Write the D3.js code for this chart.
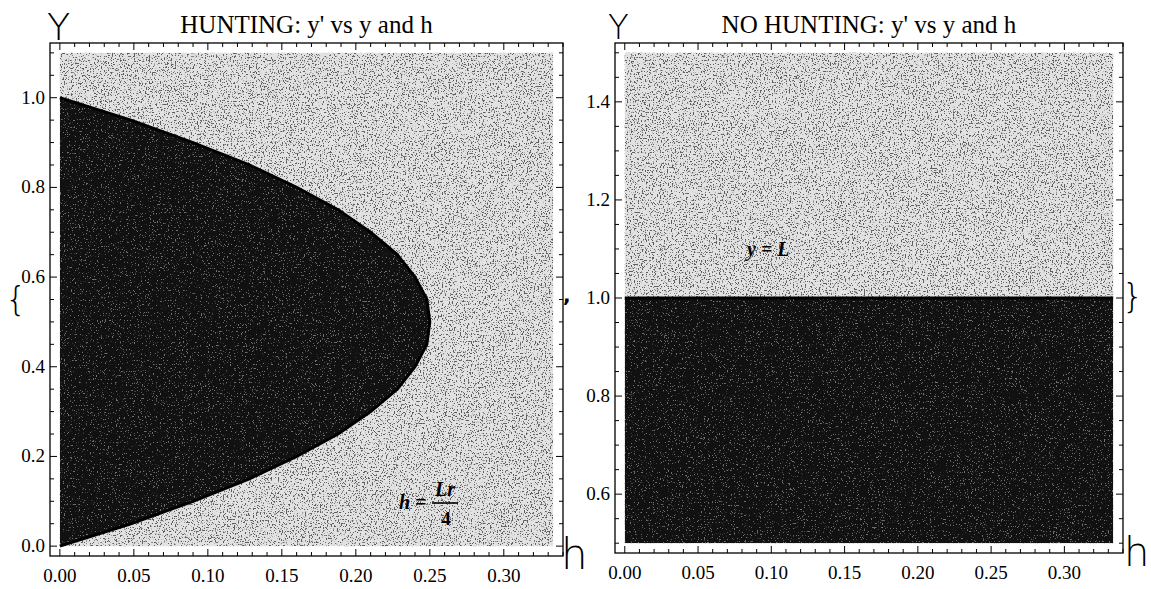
<!DOCTYPE html>
<html>
  <head>
    <meta charset="utf-8" />
    <script src="https://d3js.org/d3.v7.min.js"></script>
    <title>Hunting vs No Hunting</title>
    <style>
      body { margin: 0; background: #fff; }
    </style>
  </head>

  <body>
    <div id="chart"></div>
  </body>

  <script>
    // boundary of the y' > 0 region with hunting (h max for each y)
    var huntY = [0, 0.05, 0.1, 0.15, 0.2, 0.25, 0.3, 0.35, 0.4, 0.45, 0.5,
      0.55, 0.6, 0.65, 0.7, 0.75, 0.8, 0.85, 0.9, 0.95, 1.0];
    var huntH = [0, 0.048, 0.09, 0.128, 0.16, 0.188, 0.21, 0.228, 0.24, 0.248, 0.25,
      0.248, 0.24, 0.228, 0.21, 0.188, 0.16, 0.128, 0.09, 0.048, 0];

    // no hunting: y' > 0 below y = L
    var noHuntH = [0, 0.3333];
    var noHuntY = [1.0, 1.0];

    // plotted ranges
    var hRange = [0, 0.3333];
    var huntYRange = [0, 1.1];
    var noHuntYRange = [0.5, 1.5];

    // tick labels
    var hTicks = [0, 0.05, 0.1, 0.15, 0.2, 0.25, 0.3];
    var huntYTicks = [0, 0.2, 0.4, 0.6, 0.8, 1.0];
    var noHuntYTicks = [0.6, 0.8, 1.0, 1.2, 1.4];

    var serif = "'Liberation Serif', 'Times New Roman', serif";
    var handFont = "'DejaVu Sans', sans-serif";

    var width = 1151,
      height = 589;

    var svg = d3
      .select('#chart')
      .append('svg')
      .attr('width', width)
      .attr('height', height)
      .style('font-family', serif);

    var defs = svg.append('defs');

    // scanned halftone grain
    function grainFilter(id, seed, k, b) {
      var f = defs
        .append('filter')
        .attr('id', id)
        .attr('x', 0)
        .attr('y', 0)
        .attr('width', 1)
        .attr('height', 1);
      f.append('feTurbulence')
        .attr('type', 'fractalNoise')
        .attr('baseFrequency', 0.73)
        .attr('numOctaves', 3)
        .attr('seed', seed)
        .attr('result', 'noise');
      f.append('feColorMatrix')
        .attr('in', 'noise')
        .attr('type', 'matrix')
        .attr('values', '0 0 0 0 0  0 0 0 0 0  0 0 0 0 0  ' + k + ' 0 0 0 ' + b)
        .attr('result', 'mask');
      f.append('feComposite')
        .attr('in', 'SourceGraphic')
        .attr('in2', 'mask')
        .attr('operator', 'in');
    }
    grainFilter('grainDark', 3, 12, -6.9);
    grainFilter('grainLight', 7, 12, -7.6);

    function drawPanel(opt) {
      var frame = opt.frame;
      var x = d3.scaleLinear().domain(opt.xDomain).range([frame.x0, frame.x1]);
      var y = d3.scaleLinear().domain(opt.yDomain).range([frame.y1, frame.y0]);

      var g = svg.append('g');

      var x0 = x(hRange[0]),
        x1 = x(hRange[1]),
        yTop = y(opt.yRange[1]),
        yBot = y(opt.yRange[0]);

      // light region (y' < 0)
      g.append('rect')
        .attr('x', x0)
        .attr('y', yTop)
        .attr('width', x1 - x0)
        .attr('height', yBot - yTop)
        .attr('fill', '#e2e2e2');
      g.append('rect')
        .attr('x', x0)
        .attr('y', yTop)
        .attr('width', x1 - x0)
        .attr('height', yBot - yTop)
        .attr('fill', '#333')
        .attr('fill-opacity', 0.75)
        .attr('filter', 'url(#grainDark)');

      // dark region (y' > 0)
      var clipId = opt.id + '-clip';
      defs
        .append('clipPath')
        .attr('id', clipId)
        .append('path')
        .attr('d', opt.regionPath(x, y));

      var dark = g.append('g').attr('clip-path', 'url(#' + clipId + ')');
      dark
        .append('rect')
        .attr('x', x0)
        .attr('y', yTop)
        .attr('width', x1 - x0)
        .attr('height', yBot - yTop)
        .attr('fill', '#111');
      dark
        .append('rect')
        .attr('x', x0)
        .attr('y', yTop)
        .attr('width', x1 - x0)
        .attr('height', yBot - yTop)
        .attr('fill', '#9a9a9a')
        .attr('fill-opacity', 0.7)
        .attr('filter', 'url(#grainLight)');

      // edge of the region
      g.append('path')
        .attr('d', opt.edgePath(x, y))
        .attr('fill', 'none')
        .attr('stroke', '#000')
        .attr('stroke-width', 3);

      // frame
      g.append('rect')
        .attr('x', frame.x0)
        .attr('y', frame.y0)
        .attr('width', frame.x1 - frame.x0)
        .attr('height', frame.y1 - frame.y0)
        .attr('fill', 'none')
        .attr('stroke', '#000')
        .attr('stroke-width', 1.3);

      // minor + major ticks on all four sides
      var xMinor = d3.range(0, 0.3401, 0.01);
      var yMinor = d3.range(opt.yDomain[0], opt.yDomain[1], 0.05).map(function (v) {
        return Math.round(v * 20) / 20;
      }).filter(function (v) {
        return v >= opt.yDomain[0] && v <= opt.yDomain[1];
      });

      function isMajor(v, step) {
        return Math.abs(v / step - Math.round(v / step)) < 1e-6;
      }

      xMinor.forEach(function (v) {
        var len = isMajor(v, 0.05) ? 7 : 4;
        g.append('line')
          .attr('x1', x(v)).attr('x2', x(v))
          .attr('y1', frame.y1).attr('y2', frame.y1 - len)
          .attr('stroke', '#000');
        g.append('line')
          .attr('x1', x(v)).attr('x2', x(v))
          .attr('y1', frame.y0).attr('y2', frame.y0 + len)
          .attr('stroke', '#000');
      });
      yMinor.forEach(function (v) {
        var len = isMajor(v, 0.2) ? 7 : 4;
        g.append('line')
          .attr('x1', frame.x0).attr('x2', frame.x0 + len)
          .attr('y1', y(v)).attr('y2', y(v))
          .attr('stroke', '#000');
        g.append('line')
          .attr('x1', frame.x1).attr('x2', frame.x1 - len)
          .attr('y1', y(v)).attr('y2', y(v))
          .attr('stroke', '#000');
      });

      // tick labels
      g.selectAll('.xlab')
        .data(hTicks)
        .join('text')
        .attr('x', (d) => x(d))
        .attr('y', frame.y1 + 26)
        .attr('text-anchor', 'middle')
        .style('font-size', '19px')
        .text((d) => d3.format('.2f')(d));

      g.selectAll('.ylab')
        .data(opt.yTicks)
        .join('text')
        .attr('x', frame.x0 - 5)
        .attr('y', (d) => y(d) + 6)
        .attr('text-anchor', 'end')
        .style('font-size', '19px')
        .text((d) => d3.format('.1f')(d));

      // title
      g.append('text')
        .attr('x', (frame.x0 + frame.x1) / 2)
        .attr('y', 33)
        .attr('text-anchor', 'middle')
        .style('font-size', '25px')
        .text(opt.title);

      return { x: x, y: y, g: g };
    }

    // hunting panel
    var left = drawPanel({
      id: 'hunt',
      title: "HUNTING: y' vs y and h",
      frame: { x0: 50, x1: 563, y0: 43, y1: 556 },
      xDomain: [-0.00667, 0.34],
      yDomain: [-0.022, 1.122],
      yRange: huntYRange,
      yTicks: huntYTicks,
      regionPath: function (x, y) {
        return d3
          .area()
          .x0(x(0))
          .x1((d, i) => x(huntH[i]))
          .y((d) => y(d))(huntY);
      },
      edgePath: function (x, y) {
        return d3
          .line()
          .x((d, i) => x(huntH[i]))
          .y((d) => y(d))(huntY);
      },
    });

    // no hunting panel
    var right = drawPanel({
      id: 'nohunt',
      title: "NO HUNTING: y' vs y and h",
      frame: { x0: 615, x1: 1123, y0: 43, y1: 553 },
      xDomain: [-0.00667, 0.34],
      yDomain: [0.48, 1.52],
      yRange: noHuntYRange,
      yTicks: noHuntYTicks,
      regionPath: function (x, y) {
        return d3
          .area()
          .x((d) => x(d))
          .y0(y(noHuntYRange[0]))
          .y1((d, i) => y(noHuntY[i]))(noHuntH);
      },
      edgePath: function (x, y) {
        return d3
          .line()
          .x((d) => x(d))
          .y((d, i) => y(noHuntY[i]))(noHuntH);
      },
    });

    // annotation h = Lr/4
    var ann = left.g.append('g');
    ann.append('text')
      .attr('x', 399).attr('y', 509)
      .style('font-size', '20px')
      .style('font-style', 'italic')
      .style('font-weight', 'bold')
      .text('h =');
    ann.append('text')
      .attr('x', 445).attr('y', 496)
      .attr('text-anchor', 'middle')
      .style('font-size', '20px')
      .style('font-style', 'italic')
      .style('font-weight', 'bold')
      .text('Lr');
    ann.append('line')
      .attr('x1', 432).attr('x2', 458)
      .attr('y1', 503).attr('y2', 503)
      .attr('stroke', '#000')
      .attr('stroke-width', 1.6);
    ann.append('text')
      .attr('x', 446).attr('y', 525)
      .attr('text-anchor', 'middle')
      .style('font-size', '19px')
      .style('font-weight', 'bold')
      .text('4');

    // annotation y = L
    right.g.append('text')
      .attr('x', 747).attr('y', 256)
      .style('font-size', '20px')
      .style('font-style', 'italic')
      .style('font-weight', 'bold')
      .text('y = L');

    // handwritten marks
    var hand = svg.append('g');
    function mark(x, y, size, txt, weight) {
      hand.append('text')
        .attr('x', x)
        .attr('y', y)
        .style('font-family', handFont)
        .style('font-weight', weight || 200)
        .style('font-size', size + 'px')
        .text(txt);
    }
    mark(47, 40, 38, 'Y');
    mark(608, 39, 34, 'Y');
    mark(561, 569, 42, 'h');
    mark(1124, 566, 40, 'h');
    mark(5, 311, 34, '{');
    mark(1122, 308, 34, '}');
    mark(563, 302, 20, ',', 'bold');
  </script>
</html>
